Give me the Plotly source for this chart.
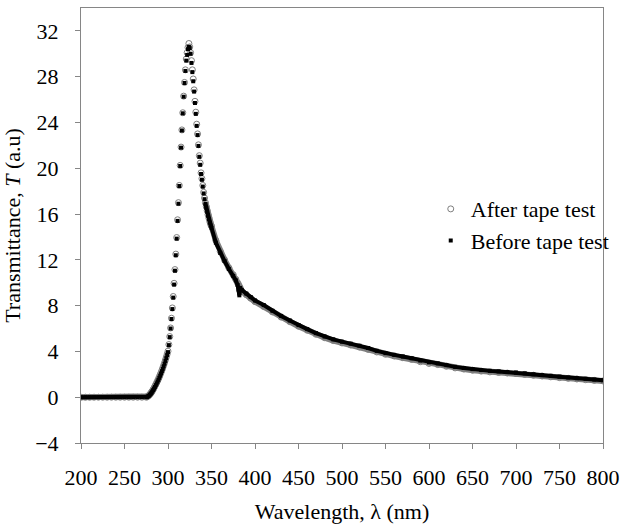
import plotly.graph_objects as go

# Wavelength sampling grid (nm)
wavelength = (list(range(200, 275, 5)) + list(range(275, 350, 1)) +
              [350, 355, 360, 365, 370, 375, 378, 380, 381, 382, 383, 385, 390, 395, 400] +
              list(range(410, 810, 10)))

flat = [0, 0, 0, 0, 0, 0, 0, 0, 0, 0, 0, 0, 0, 0, 0]

# Before tape test
before_peak = [0, 0.03, 0.07, 0.12, 0.2, 0.28, 0.38, 0.5, 0.62, 0.76,           # 275-284
               0.9, 1.05, 1.2, 1.36, 1.52, 1.7, 1.88, 2.07, 2.27, 2.48,          # 285-294
               2.7, 2.93, 3.17, 3.42, 3.68, 3.94, 4.55, 5.25, 6.0, 6.83,         # 295-304
               7.7, 8.7, 9.84, 11.05, 12.4, 13.85, 15.4, 16.9, 18.45, 20.2,      # 305-314
               21.8, 23.3, 24.8, 26.25, 27.45, 28.5, 29.4, 29.9, 30.4, 30.6,     # 315-324
               30.5, 30.0, 29.2, 28.4, 27.6, 26.7, 25.7, 24.75, 23.7, 22.9,      # 325-334
               21.95, 21.0, 20.3, 19.5, 19.0, 18.4, 17.8, 17.3, 16.9, 16.55,     # 335-344
               16.2, 15.85, 15.55, 15.25, 15.0]                                   # 345-349
before_tail = [14.8, 13.5, 12.6, 11.9, 11.2, 10.6, 10.2, 9.8, 9.4, 8.9, 9.55, 9.35, 9.05, 8.75, 8.45,
               8.05, 7.55, 7.1, 6.7, 6.3, 5.95, 5.6, 5.3, 5.05, 4.85,
               4.68, 4.5, 4.3, 4.05, 3.85, 3.7, 3.55, 3.4, 3.2, 3.05,
               2.95, 2.8, 2.65, 2.55, 2.45, 2.37, 2.3, 2.25, 2.2, 2.15,
               2.08, 2.0, 1.93, 1.86, 1.79, 1.72, 1.66, 1.6, 1.54, 1.49]

# After tape test
after_peak = [0, 0.04, 0.09, 0.15, 0.23, 0.32, 0.43, 0.55, 0.68, 0.82,
              0.97, 1.12, 1.28, 1.44, 1.6, 1.78, 1.96, 2.15, 2.35, 2.56,
              2.78, 3.01, 3.25, 3.5, 3.76, 4.02, 4.6, 5.3, 6.05, 6.9,
              7.8, 8.8, 9.95, 11.15, 12.5, 13.95, 15.5, 17.0, 18.5, 20.25,
              21.85, 23.35, 24.85, 26.3, 27.5, 28.6, 29.55, 30.1, 30.55, 30.9,
              30.6, 30.1, 29.4, 28.6, 27.8, 26.85, 25.85, 24.9, 23.85, 23.0,
              22.05, 21.1, 20.45, 19.6, 19.1, 18.5, 17.9, 17.4, 17.0, 16.65,
              16.3, 15.95, 15.65, 15.35, 15.1]
after_tail = [14.95, 13.7, 12.75, 12.0, 11.3, 10.7, 10.3, 10.0, 9.85, 9.7, 9.55, 9.25, 8.95, 8.65, 8.35,
              7.92, 7.45, 7.0, 6.6, 6.2, 5.85, 5.5, 5.2, 4.95, 4.74,
              4.56, 4.38, 4.18, 3.95, 3.75, 3.6, 3.45, 3.3, 3.1, 2.95,
              2.85, 2.7, 2.56, 2.46, 2.36, 2.28, 2.21, 2.16, 2.11, 2.06,
              1.99, 1.92, 1.85, 1.78, 1.71, 1.65, 1.59, 1.53, 1.47, 1.42]

before = flat + before_peak + before_tail
after = flat + after_peak + after_tail

x_ticks = [200, 250, 300, 350, 400, 450, 500, 550, 600, 650, 700, 750, 800]
y_ticks = [-4, 0, 4, 8, 12, 16, 20, 24, 28, 32]


def band(xs, ys, lo=284, hi=343):
    bx, by = [], []
    for xv, yv in zip(xs, ys):
        if xv <= lo:
            bx.append(xv); by.append(yv)
    bx.append(None); by.append(None)
    for xv, yv in zip(xs, ys):
        if xv >= hi:
            bx.append(xv); by.append(yv)
    return bx, by


fig = go.Figure()
ax, ay = band(wavelength, after)
bx, by = band(wavelength, before)
fig.add_trace(go.Scatter(x=ax, y=ay, mode="lines", showlegend=False, hoverinfo="skip",
                         line=dict(color="#808080", width=6)))
fig.add_trace(go.Scatter(x=wavelength, y=after, mode="markers", name="After tape test",
                         marker=dict(symbol="circle-open", size=6, color="#7f7f7f",
                                     line=dict(width=1, color="#7f7f7f"))))
fig.add_trace(go.Scatter(x=bx, y=by, mode="lines", showlegend=False, hoverinfo="skip",
                         line=dict(color="black", width=4)))
fig.add_trace(go.Scatter(x=wavelength, y=before, mode="markers", name="Before tape test",
                         marker=dict(symbol="square", size=4, color="black")))

font = "Times New Roman, serif"
fs = 22
fig.update_layout(
    width=623, height=530,
    margin=dict(l=81, r=17, t=8, b=87),
    paper_bgcolor="white", plot_bgcolor="white",
    font=dict(family=font, size=fs, color="black"),
    legend=dict(x=0.67, y=0.586, xanchor="left", yanchor="top",
                bgcolor="rgba(0,0,0,0)", font=dict(family=font, size=fs), itemwidth=30),
    xaxis=dict(range=[200, 800], tickvals=x_ticks, ticks="outside", ticklen=5,
               tickcolor="#868686", showline=True, linecolor="#868686", mirror=True,
               showgrid=False, zeroline=False, ticklabelstandoff=10, automargin=False,
               tickfont=dict(family=font, size=fs),
               title=dict(text="Wavelength, λ (nm)", standoff=14,
                          font=dict(family=font, size=fs))),
    yaxis=dict(range=[-4, 34], tickvals=y_ticks, ticks="outside", ticklen=5,
               tickcolor="#868686", showline=True, linecolor="#868686", mirror=True,
               showgrid=False, zeroline=False, ticklabelstandoff=12,
               tickfont=dict(family=font, size=fs),
               title=dict(text="Transmittance, <i>T</i> (a.u)", standoff=9,
                          font=dict(family=font, size=fs))),
)

fig.write_html("out.html")
